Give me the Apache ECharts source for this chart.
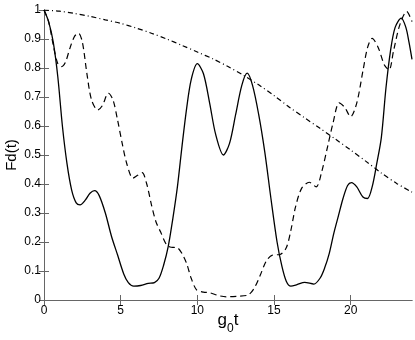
<!DOCTYPE html>
<html>
<head>
<meta charset="utf-8">
<script src="https://cdn.jsdelivr.net/npm/echarts@6/dist/echarts.min.js"></script>
<style>
  html, body { margin: 0; padding: 0; background: #fff; }
  #main { width: 415px; height: 340px; }
</style>
</head>
<body>
<div id="main"></div>
<script>
  // [g0t, Fd(t)] pairs
  var solidData = [
    [0, 1], [0.3, 0.96], [0.6, 0.89], [0.9, 0.77], [1.2, 0.6], [1.5, 0.47], [1.8, 0.38],
    [2.1, 0.335], [2.35, 0.328], [2.7, 0.345], [3.0, 0.368], [3.3, 0.377], [3.6, 0.36],
    [4.0, 0.3], [4.4, 0.22], [4.8, 0.155], [5.2, 0.09], [5.5, 0.06], [5.85, 0.048],
    [6.3, 0.05], [6.8, 0.057], [7.2, 0.06], [7.5, 0.075], [7.8, 0.12], [8.1, 0.184],
    [8.4, 0.28], [8.7, 0.39], [9.0, 0.53], [9.3, 0.66], [9.6, 0.76], [10.0, 0.815],
    [10.4, 0.78], [10.8, 0.68], [11.2, 0.57], [11.7, 0.5], [12.1, 0.54], [12.5, 0.64],
    [12.9, 0.74], [13.25, 0.782], [13.6, 0.74], [14.0, 0.64], [14.4, 0.51], [14.8, 0.35],
    [15.2, 0.2], [15.5, 0.12], [15.8, 0.065], [16.1, 0.048], [16.5, 0.053], [17.0, 0.061],
    [17.6, 0.055], [18.0, 0.075], [18.3, 0.11], [18.6, 0.16], [18.9, 0.23], [19.2, 0.29],
    [19.5, 0.35], [19.8, 0.395], [20.05, 0.405], [20.4, 0.39], [20.8, 0.355], [21.1, 0.35],
    [21.4, 0.39], [21.7, 0.47], [22.0, 0.56], [22.3, 0.73], [22.6, 0.86], [22.9, 0.94],
    [23.3, 0.972], [23.6, 0.94], [23.8, 0.89], [24, 0.83]
  ];
  var dashedData = [
    [0, 1], [0.3, 0.96], [0.6, 0.88], [0.9, 0.815], [1.15, 0.805], [1.4, 0.82], [1.7, 0.87],
    [2.0, 0.91], [2.25, 0.92], [2.5, 0.89], [2.8, 0.78], [3.1, 0.69], [3.5, 0.655],
    [3.8, 0.67], [4.2, 0.713], [4.5, 0.69], [4.8, 0.62], [5.1, 0.54], [5.4, 0.47],
    [5.8, 0.42], [6.1, 0.43], [6.4, 0.439], [6.7, 0.4], [7.0, 0.33], [7.3, 0.27],
    [7.6, 0.235], [8.0, 0.19], [8.3, 0.182], [8.7, 0.18], [9.0, 0.16], [9.3, 0.126],
    [9.6, 0.075], [9.95, 0.035], [10.4, 0.027], [10.8, 0.025], [11.4, 0.015], [11.9, 0.011],
    [12.6, 0.013], [13.3, 0.017], [13.7, 0.04], [14.1, 0.085], [14.5, 0.135], [14.9, 0.155],
    [15.4, 0.157], [15.8, 0.18], [16.1, 0.24], [16.4, 0.32], [16.8, 0.385], [17.3, 0.406],
    [17.75, 0.39], [18.1, 0.44], [18.5, 0.53], [18.85, 0.61], [19.25, 0.68], [19.6, 0.665],
    [20.0, 0.632], [20.4, 0.68], [20.8, 0.79], [21.1, 0.87], [21.4, 0.902], [21.8, 0.87],
    [22.2, 0.81], [22.5, 0.793], [22.8, 0.86], [23.2, 0.948], [23.65, 0.995], [24, 0.96]
  ];
  var dashDotData = [
    [0, 1], [1, 0.996], [2, 0.988], [3, 0.978], [4, 0.966], [5, 0.954], [6, 0.938],
    [7, 0.92], [8, 0.9], [9, 0.878], [10, 0.855], [11, 0.832], [12, 0.805], [13, 0.775],
    [14, 0.742], [15, 0.705], [16, 0.665], [17, 0.628], [18, 0.592], [19, 0.555],
    [20, 0.517], [21, 0.478], [22, 0.438], [23, 0.402], [24, 0.372]
  ];
  var xTicks = [0, 5, 10, 15, 20];
  var yTicks = [0, 0.1, 0.2, 0.3, 0.4, 0.5, 0.6, 0.7, 0.8, 0.9, 1];

  var font = "'Liberation Sans', Arial, sans-serif";
  var boxLine = { lineStyle: { color: '#666', width: 1 } };
  var tickIn = { inside: true, length: 5, lineStyle: { color: '#666' } };

  var chart = echarts.init(document.getElementById('main'));
  chart.setOption({
    animation: false,
    textStyle: { fontFamily: font },
    grid: { left: 44, right: 3, top: 10, bottom: 40, outerBoundsMode: 'none' },
    xAxis: [
      {
        type: 'value', min: 0, max: 24,
        axisLine: boxLine, splitLine: { show: false },
        axisTick: Object.assign({ customValues: xTicks }, tickIn),
        axisLabel: { color: '#000', fontSize: 12, margin: 5, customValues: xTicks },
        name: '{a|g}{b|0}{a|t}', nameLocation: 'middle', nameGap: 12, nameMoveOverlap: false,
        nameTextStyle: {
          rich: {
            a: { fontSize: 17, color: '#000', fontFamily: font, verticalAlign: 'top' },
            b: { fontSize: 12, color: '#000', fontFamily: font, padding: [11, 0, 0, 0], verticalAlign: 'top' }
          }
        }
      },
      {
        type: 'value', min: 0, max: 24, position: 'top',
        axisLine: boxLine, splitLine: { show: false },
        axisTick: Object.assign({ customValues: xTicks }, tickIn),
        axisLabel: { show: false }
      }
    ],
    yAxis: [
      {
        type: 'value', min: 0, max: 1,
        axisLine: boxLine, splitLine: { show: false },
        axisTick: Object.assign({ customValues: yTicks }, tickIn),
        axisLabel: {
          color: '#000', fontSize: 12, margin: 3, customValues: yTicks,
          formatter: function (v) { return String(Math.round(v * 10) / 10); }
        },
        name: 'Fd(t)', nameLocation: 'middle', nameGap: 25, nameRotate: 90, nameMoveOverlap: false,
        nameTextStyle: { fontSize: 15, color: '#000' }
      },
      {
        type: 'value', min: 0, max: 1, position: 'right',
        axisLine: boxLine, splitLine: { show: false },
        axisTick: Object.assign({ customValues: yTicks }, tickIn),
        axisLabel: { show: false }
      }
    ],
    series: [
      {
        type: 'line', data: solidData, symbol: 'none', smooth: 0.3,
        lineStyle: { color: '#000', width: 1.3, type: 'solid' }
      },
      {
        type: 'line', data: dashedData, symbol: 'none', smooth: 0.3,
        lineStyle: { color: '#000', width: 1.2, type: [6, 4] }
      },
      {
        type: 'line', data: dashDotData, symbol: 'none', smooth: 0.3,
        lineStyle: { color: '#000', width: 1.2, type: [5, 3, 1, 3] }
      }
    ]
  });
</script>
</body>
</html>
